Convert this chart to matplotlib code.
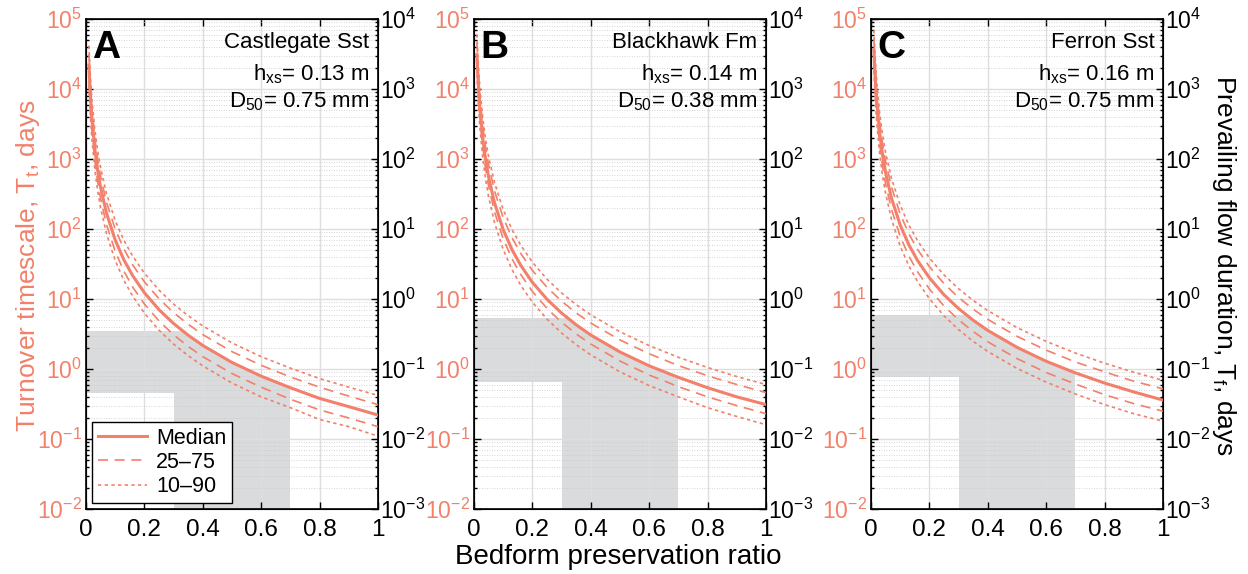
import numpy as np
import matplotlib
matplotlib.use('Agg')
import matplotlib.pyplot as plt
from matplotlib.patches import Polygon
from matplotlib.ticker import FixedLocator, NullFormatter

plt.rcParams['font.family'] = ['Liberation Sans', 'DejaVu Sans']
plt.rcParams['mathtext.fontset'] = 'custom'
plt.rcParams['mathtext.rm'] = 'Liberation Sans'
plt.rcParams['mathtext.it'] = 'Liberation Sans:italic'
plt.rcParams['axes.unicode_minus'] = False

SALMON = '#f2806a'
BAND = '#dadbdc'

# preservation ratio sample points
ratio = [0.01, 0.015, 0.02, 0.03, 0.04, 0.05, 0.07, 0.1, 0.13, 0.16, 0.2,
         0.25, 0.3, 0.35, 0.4, 0.5, 0.6, 0.7, 0.8, 0.9, 1.0]

# turnover timescale (days), panel A - Castlegate Sst
a_med = [22000, 7980, 3890, 1410, 688, 394, 170, 69.6, 36.1, 21.5, 12.3, 7.04, 4.46, 3.04, 2.17, 1.24, 0.79, 0.54, 0.38, 0.29, 0.22]
a_q75 = [31460, 11410, 5560, 2020, 984, 563, 243, 99.5, 51.6, 30.7, 17.6, 10.1, 6.38, 4.35, 3.10, 1.77, 1.13, 0.77, 0.55, 0.41, 0.31]
a_q90 = [41800, 15160, 7390, 2680, 1307, 749, 323, 132, 68.6, 40.9, 23.4, 13.4, 8.47, 5.78, 4.12, 2.36, 1.50, 1.03, 0.73, 0.55, 0.42]
a_q25 = [15180, 5510, 2680, 973, 475, 272, 117, 48.0, 24.9, 14.8, 8.49, 4.86, 3.08, 2.10, 1.50, 0.86, 0.55, 0.37, 0.26, 0.20, 0.15]
a_q10 = [11220, 4070, 1980, 719, 351, 201, 86.7, 35.5, 18.4, 11.0, 6.27, 3.59, 2.27, 1.55, 1.11, 0.63, 0.40, 0.28, 0.19, 0.15, 0.11]

# panel B - Blackhawk Fm
b_med = [31000, 11250, 5480, 1990, 969, 555, 239, 98.0, 50.9, 30.3, 17.3, 9.92, 6.29, 4.28, 3.06, 1.75, 1.11, 0.76, 0.54, 0.40, 0.31]
b_q75 = [45880, 16650, 8110, 2940, 1434, 821, 354, 145, 75.3, 44.8, 25.6, 14.7, 9.31, 6.33, 4.53, 2.60, 1.65, 1.12, 0.80, 0.60, 0.46]
b_q90 = [60140, 21820, 10630, 3860, 1880, 1077, 464, 190, 98.7, 58.7, 33.6, 19.2, 12.2, 8.30, 5.94, 3.40, 2.16, 1.47, 1.05, 0.78, 0.60]
b_q25 = [22940, 8330, 4060, 1470, 717, 411, 177, 72.5, 37.7, 22.4, 12.8, 7.34, 4.65, 3.17, 2.27, 1.30, 0.82, 0.56, 0.40, 0.30, 0.23]
b_q10 = [16120, 5850, 2850, 1030, 504, 289, 124, 51.0, 26.5, 15.7, 9.01, 5.16, 3.27, 2.22, 1.59, 0.91, 0.58, 0.40, 0.28, 0.21, 0.16]

# panel C - Ferron Sst
c_med = [36000, 13060, 6360, 2310, 1125, 644, 278, 114, 59.1, 35.2, 20.1, 11.5, 7.30, 4.97, 3.56, 2.04, 1.29, 0.88, 0.63, 0.47, 0.36]
c_q75 = [51840, 18810, 9160, 3330, 1620, 927, 400, 164, 85.1, 50.6, 29.0, 16.6, 10.5, 7.15, 5.12, 2.93, 1.86, 1.26, 0.91, 0.67, 0.52]
c_q90 = [69120, 25080, 12220, 4430, 2160, 1237, 533, 219, 113, 67.5, 38.6, 22.1, 14.0, 9.54, 6.83, 3.91, 2.48, 1.69, 1.21, 0.90, 0.69]
c_q25 = [24840, 9010, 4390, 1590, 776, 444, 192, 78.5, 40.8, 24.3, 13.9, 7.95, 5.04, 3.43, 2.45, 1.41, 0.89, 0.61, 0.43, 0.32, 0.25]
c_q10 = [18000, 6530, 3180, 1150, 563, 322, 139, 56.9, 29.5, 17.6, 10.1, 5.76, 3.65, 2.48, 1.78, 1.02, 0.65, 0.44, 0.31, 0.23, 0.18]

# shaded ranges: flow-duration band (days) and preservation ratio range
band_lo = [0.455, 0.66, 0.76]
band_hi = [3.45, 5.3, 5.9]
ratio_range = [0.3, 0.7]

letters = ['A', 'B', 'C']
names = ['Castlegate Sst', 'Blackhawk Fm', 'Ferron Sst']
hxs = ['0.13', '0.14', '0.16']
d50 = ['0.75', '0.38', '0.75']
curves = [
    (a_med, a_q25, a_q75, a_q10, a_q90),
    (b_med, b_q25, b_q75, b_q10, b_q90),
    (c_med, c_q25, c_q75, c_q10, c_q90),
]

left_major = [10.0 ** k for k in range(-2, 6)]
left_minor = [m * 10.0 ** k for k in range(-2, 5) for m in range(2, 10)]
right_major = [10.0 ** k for k in range(-3, 5)]
right_minor = [m * 10.0 ** k for k in range(-3, 4) for m in range(2, 10)]

fig = plt.figure(figsize=(12.48, 5.74), dpi=100)
lefts = [0.0689, 0.3798, 0.6979]

for i in range(3):
    ax = fig.add_axes([lefts[i], 0.1132, 0.234, 0.8537])
    med, q25, q75, q10, q90 = curves[i]

    ax.set_yscale('log')
    ax.set_xlim(0, 1)
    ax.set_ylim(1e-2, 1e5)

    # gray shaded area, clipped below the median curve
    lo, hi = band_lo[i], band_hi[i]
    r0, r1 = ratio_range
    shade = ax.fill([0, r1, r1, r0, r0, 0], [hi, hi, 1e-2, 1e-2, lo, lo],
                    color=BAND, lw=0, zorder=1)[0]
    clip = Polygon([(0, med[0])] + list(zip(ratio, med)) + [(1, 1e-3), (0, 1e-3)],
                   closed=True, transform=ax.transData)
    shade.set_clip_path(clip)

    ax.plot(ratio, q90, color=SALMON, lw=1.2, ls=(0, (2, 2)), zorder=3)
    ax.plot(ratio, q10, color=SALMON, lw=1.2, ls=(0, (2, 2)), zorder=3, label='10\u201390')
    ax.plot(ratio, q75, color=SALMON, lw=1.2, ls=(0, (6, 4)), zorder=3)
    ax.plot(ratio, q25, color=SALMON, lw=1.2, ls=(0, (6, 4)), zorder=3, label='25\u201375')
    ax.plot(ratio, med, color=SALMON, lw=2.2, zorder=4, label='Median')

    ax.set_xticks([0, 0.2, 0.4, 0.6, 0.8, 1])
    ax.set_xticklabels(['0', '0.2', '0.4', '0.6', '0.8', '1'])
    ax.yaxis.set_major_locator(FixedLocator(left_major))
    ax.yaxis.set_minor_locator(FixedLocator(left_minor))
    ax.yaxis.set_minor_formatter(NullFormatter())

    ax.grid(True, which='major', color='#dedede', lw=1.0)
    ax.grid(True, which='minor', axis='y', color='#c8c8c8', lw=0.6, ls=(0, (1, 2)))

    ax.tick_params(which='both', direction='in', top=True, labelsize=16.5, width=1)
    ax.tick_params(which='major', length=5)
    ax.tick_params(which='minor', length=2.5)
    ax.tick_params(axis='y', which='both', right=False, labelcolor=SALMON, pad=3)
    ax.tick_params(axis='x', labelsize=17.5, pad=7.5)
    for s in ax.spines.values():
        s.set_linewidth(1.2)

    ax2 = ax.twinx()
    ax2.set_yscale('log')
    ax2.set_ylim(1e-3, 1e4)
    ax2.yaxis.set_major_locator(FixedLocator(right_major))
    ax2.yaxis.set_minor_locator(FixedLocator(right_minor))
    ax2.yaxis.set_minor_formatter(NullFormatter())
    ax2.tick_params(which='both', direction='in', labelsize=16.5, width=1, pad=1.5)
    ax2.tick_params(which='major', length=5)
    ax2.tick_params(which='minor', length=2.5)

    ax.text(0.022, 0.92, letters[i], transform=ax.transAxes, fontsize=28,
            fontweight='bold', ha='left', va='baseline', zorder=6)
    ax.text(0.97, 0.941, names[i], transform=ax.transAxes, fontsize=16,
            ha='right', va='baseline', zorder=6)
    ax.text(0.97, 0.874, r'h$_{\mathrm{xs}}$= ' + hxs[i] + ' m', transform=ax.transAxes,
            fontsize=16, ha='right', va='baseline', zorder=6)
    ax.text(0.97, 0.82, r'D$_{\mathrm{50}}$= ' + d50[i] + ' mm', transform=ax.transAxes,
            fontsize=16, ha='right', va='baseline', zorder=6)

    if i == 0:
        handles, labels = ax.get_legend_handles_labels()
        leg = ax.legend(handles[::-1], labels[::-1], loc='lower left', fontsize=15.5,
                        handlelength=2.3, handletextpad=0.4, borderaxespad=0.3,
                        labelspacing=0.15, borderpad=0.25, fancybox=False,
                        edgecolor='black', framealpha=1)
        leg.get_frame().set_linewidth(1.0)
        leg.set_zorder(7)

fig.text(28 / 1248, 1 - 266 / 574, r'Turnover timescale, T$_{\mathrm{t}}$, days',
         rotation=90, ha='center', va='center', fontsize=19, color=SALMON)
fig.text(1224 / 1248, 1 - 265 / 574, r'Prevailing flow duration, T$_{\mathrm{f}}$, days',
         rotation=270, ha='center', va='center', fontsize=19, color='black')
fig.text(618 / 1248, 1 - 557 / 574, 'Bedform preservation ratio',
         ha='center', va='center', fontsize=20)

fig.savefig('out.png', dpi=100)
